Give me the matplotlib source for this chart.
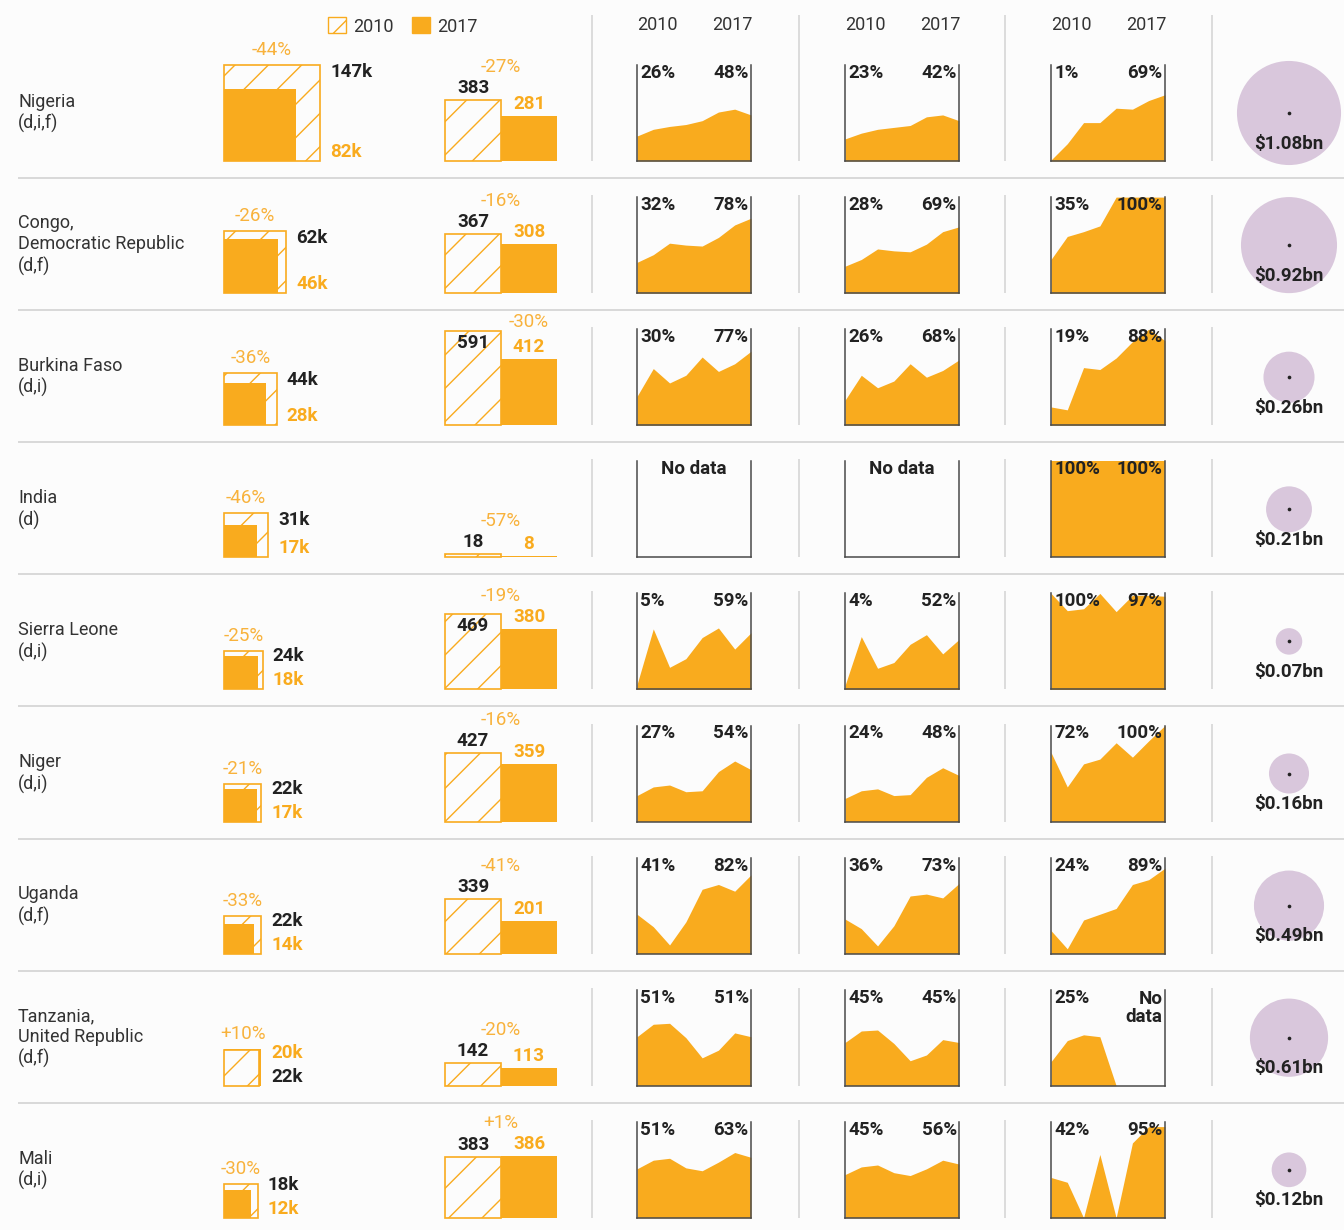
import numpy as np
import matplotlib
matplotlib.use("Agg")
from matplotlib import pyplot as plt
from matplotlib.patches import Patch

plt.rcParams['font.family'] = ['Roboto', 'DejaVu Sans']
plt.rcParams['hatch.linewidth'] = 1.0

# ------------------------------ data ------------------------------
countries = ["Nigeria\n(d,i,f)", "Congo,\nDemocratic Republic\n(d,f)", "Burkina Faso\n(d,i)",
             "India\n(d)", "Sierra Leone\n(d,i)", "Niger\n(d,i)", "Uganda\n(d,f)",
             "Tanzania,\nUnited Republic\n(d,f)", "Mali\n(d,i)"]

# malaria deaths (thousands), drawn as squares by area
deaths_2010 = [147, 62, 44, 31, 24, 22, 22, 20, 18]
deaths_2017 = [82, 46, 28, 17, 18, 17, 14, 22, 12]
deaths_2010_lbl = ["147k", "62k", "44k", "31k", "24k", "22k", "22k", "22k", "18k"]
deaths_2017_lbl = ["82k", "46k", "28k", "17k", "18k", "17k", "14k", "20k", "12k"]
deaths_change = ["-44%", "-26%", "-36%", "-46%", "-25%", "-21%", "-33%", "+10%", "-30%"]

# incidence per 1000 at risk
rate_2010 = [383, 367, 591, 18, 469, 427, 339, 142, 383]
rate_2017 = [281, 308, 412, 8, 380, 359, 201, 113, 386]
rate_change = ["-27%", "-16%", "-30%", "-57%", "-19%", "-16%", "-41%", "-20%", "+1%"]

years = [2010, 2011, 2012, 2013, 2014, 2015, 2016, 2017]
nan = np.nan
cov_a = [
    [26, 33, 36, 38, 42, 51, 54, 48],
    [32, 40, 52, 50, 49, 58, 71, 78],
    [30, 59, 44, 52, 71, 56, 64, 77],
    None,
    [5, 63, 23, 32, 54, 64, 42, 59],
    [27, 36, 38, 31, 32, 52, 63, 54],
    [41, 28, 9, 33, 67, 72, 65, 82],
    [51, 64, 65, 50, 29, 37, 55, 51],
    [51, 60, 62, 52, 49, 58, 68, 63],
]
cov_b = [
    [23, 29, 33, 35, 37, 46, 48, 42],
    [28, 35, 46, 44, 43, 51, 64, 69],
    [26, 52, 39, 46, 64, 50, 57, 68],
    None,
    [4, 55, 22, 28, 47, 57, 37, 52],
    [24, 32, 34, 27, 28, 46, 56, 48],
    [36, 26, 8, 29, 60, 62, 58, 73],
    [45, 57, 58, 44, 26, 32, 48, 45],
    [45, 53, 55, 47, 44, 51, 60, 56],
]
cov_c = [
    [1, 18, 40, 40, 55, 54, 63, 69],
    [35, 59, 64, 70, 100, 100, 100, 100],
    [19, 16, 60, 58, 70, 87, 100, 88],
    [100, 100, 100, 100, 100, 100, 100, 100],
    [100, 82, 84, 100, 81, 98, 98, 97],
    [72, 36, 60, 65, 82, 67, 84, 100],
    [24, 5, 35, 41, 47, 72, 77, 89],
    [25, 47, 53, 51, 0, nan, nan, nan],
    [42, 37, 0, 66, 0, 78, 95, 95],
]

funding = [1.08, 0.92, 0.26, 0.21, 0.07, 0.16, 0.49, 0.61, 0.12]

# ------------------------------ style / layout ------------------------------
BG = '#fcfcfc'
ORANGE = '#f9ab1e'
PCT_ORANGE = '#f8b23c'
DARK = '#222222'
GREY_LINE = '#d6d6d6'
LILAC = '#d9c7dc'

W, H = 1344, 1230
ROW0, PITCH, PLOT_H = 161, 132.1, 96
AREA_X = [637, 845, 1051]
SEP_X = [592, 799, 1005, 1212]
FS = 12.5     # regular text
FSB = 13.5    # bold value labels
FSP = 13.5    # change percentages

fig = plt.figure(figsize=(W / 100, H / 100), dpi=100, facecolor=BG)


def px_axes(x, y, w, h):
    ax = fig.add_axes([x / W, 1 - (y + h) / H, w / W, h / H])
    ax.set_facecolor('none')
    return ax


bg = fig.add_axes([0, 0, 1, 1])
bg.set_xlim(0, W)
bg.set_ylim(H, 0)
bg.axis('off')

# separators
for i in range(len(countries) - 1):
    bg.hlines(ROW0 + 17 + PITCH * i, 18, W, color=GREY_LINE, lw=1.3)
for i in range(len(countries)):
    base = ROW0 + PITCH * i
    top = 15 if i == 0 else base - 98
    bg.vlines(SEP_X, top, base, color=GREY_LINE, lw=1.2)

# header
for x0 in AREA_X:
    bg.text(x0 + 20, 25, "2010", ha='center', va='center', fontsize=13, color='#333333')
    bg.text(x0 + 95, 25, "2017", ha='center', va='center', fontsize=13, color='#333333')
fig.legend(handles=[Patch(facecolor=BG, edgecolor=ORANGE, hatch='/', label='2010'),
                    Patch(facecolor=ORANGE, edgecolor=ORANGE, label='2017')],
           loc='upper left', bbox_to_anchor=(312 / W, 1 - 1 / H), ncol=2, frameon=False,
           handlelength=1.0, handleheight=1.0, handletextpad=0.4, columnspacing=1.0,
           fontsize=13, labelcolor='#333333')

smax = np.sqrt(max(deaths_2010 + deaths_2017))

for i, name in enumerate(countries):
    base = ROW0 + PITCH * i
    bg.text(18, base - 48, name, ha='left', va='center', fontsize=13, color='#333333',
            linespacing=1.22)

    # ---- deaths: nested squares ----
    ax = px_axes(224, base - PLOT_H, PLOT_H, PLOT_H)
    ax.set_xlim(0, smax)
    ax.set_ylim(0, smax)
    ax.axis('off')
    u = smax / PLOT_H
    s10, s17 = np.sqrt(deaths_2010[i]), np.sqrt(deaths_2017[i])
    boxes = [(s10, 2010), (s17, 2017)]
    boxes.sort(key=lambda b: -b[0])
    for side, yr in boxes:
        if yr == 2010:
            ax.bar(0, side, width=side, align='edge', facecolor=BG, edgecolor=ORANGE,
                   hatch='/', lw=1.2, clip_on=False)
        else:
            ax.bar(0, side, width=side, align='edge', color=ORANGE, lw=0, clip_on=False)
    big = boxes[0][0]
    if s10 >= s17:
        top_lbl, top_col, bot_lbl, bot_col = deaths_2010_lbl[i], DARK, deaths_2017_lbl[i], ORANGE
    else:
        top_lbl, top_col, bot_lbl, bot_col = deaths_2017_lbl[i], ORANGE, deaths_2010_lbl[i], DARK
    ax.text(big + 10 * u, max(big - 7 * u, 33 * u), top_lbl, ha='left', va='center',
            fontsize=FSB, fontweight='bold', color=top_col)
    ax.text(big + 10 * u, 9 * u, bot_lbl, ha='left', va='center',
            fontsize=FSB, fontweight='bold', color=bot_col)
    ax.text(big / 2, big + 15 * u, deaths_change[i], ha='center', va='center',
            fontsize=FSP, color=PCT_ORANGE)

    # ---- incidence: paired bars ----
    ax = px_axes(445, base - PLOT_H, 112, PLOT_H)
    ax.set_xlim(0, 2)
    ax.set_ylim(0, 600)
    ax.axis('off')
    u = 600 / PLOT_H
    ax.bar(0, rate_2010[i], width=1, align='edge', facecolor=BG, edgecolor=ORANGE,
           hatch='/', lw=1.2, clip_on=False)
    ax.bar(1, rate_2017[i], width=1, align='edge', color=ORANGE, lw=0, clip_on=False)
    y10 = rate_2010[i] - 12 * u if rate_2010[i] > 440 else rate_2010[i] + 12 * u
    y17 = rate_2017[i] + 12 * u
    ax.text(0.5, y10, str(rate_2010[i]), ha='center', va='center', fontsize=FSB,
            fontweight='bold', color=DARK)
    ax.text(1.5, y17, str(rate_2017[i]), ha='center', va='center', fontsize=FSB,
            fontweight='bold', color=ORANGE)
    ax.text(1.5 if rate_2010[i] > 550 else 1.0, max(y10, y17) + 21 * u, rate_change[i],
            ha='center', va='center', fontsize=FSP, color=PCT_ORANGE)

    # ---- coverage area charts ----
    for x0, cov in zip(AREA_X, [cov_a, cov_b, cov_c]):
        ax = px_axes(x0, base - PLOT_H, 114, PLOT_H)
        ax.set_xlim(years[0], years[-1])
        ax.set_ylim(0, 100)
        ax.set_xticks([])
        ax.set_yticks([])
        ax.spines['top'].set_visible(False)
        for sp in ['left', 'right', 'bottom']:
            ax.spines[sp].set_color('#4a4a4a')
            ax.spines[sp].set_linewidth(1.1)
        vals = cov[i]
        if vals is None:
            ax.text(0.5, 0.917, "No data", transform=ax.transAxes, ha='center',
                    va='center', fontsize=FSB, fontweight='bold', color=DARK)
            continue
        ax.fill_between(years, vals, color=ORANGE, lw=0)
        ax.text(0.03, 0.917, f"{vals[0]}%", transform=ax.transAxes, ha='left',
                va='center', fontsize=FSB, fontweight='bold', color=DARK)
        if np.isnan(vals[-1]):
            ax.text(0.98, 0.995, "No\ndata", transform=ax.transAxes, ha='right',
                    va='top', fontsize=FSB, fontweight='bold', color=DARK, linespacing=1.0)
        else:
            ax.text(0.98, 0.917, f"{vals[-1]}%", transform=ax.transAxes, ha='right',
                    va='center', fontsize=FSB, fontweight='bold', color=DARK)

# ---- funding bubbles ----
ax = px_axes(1234, 0, 110, H)
ax.set_xlim(0, 1)
ax.set_ylim((H - 113) / PITCH, -113 / PITCH)
ax.axis('off')
rows = np.arange(len(funding))
ax.scatter(np.full(len(funding), 0.5), rows, s=np.array(funding) * 5200, color=LILAC,
           lw=0, clip_on=False)
ax.scatter(np.full(len(funding), 0.5), rows, s=7, color=DARK, lw=0)
for i, f in enumerate(funding):
    ax.annotate(f"${f:.2f}bn", xy=(0.5, i), xytext=(0, -22), textcoords='offset points',
                ha='center', va='center', fontsize=FSB, fontweight='bold', color=DARK)

fig.savefig("out.png", dpi=100, facecolor=BG)
